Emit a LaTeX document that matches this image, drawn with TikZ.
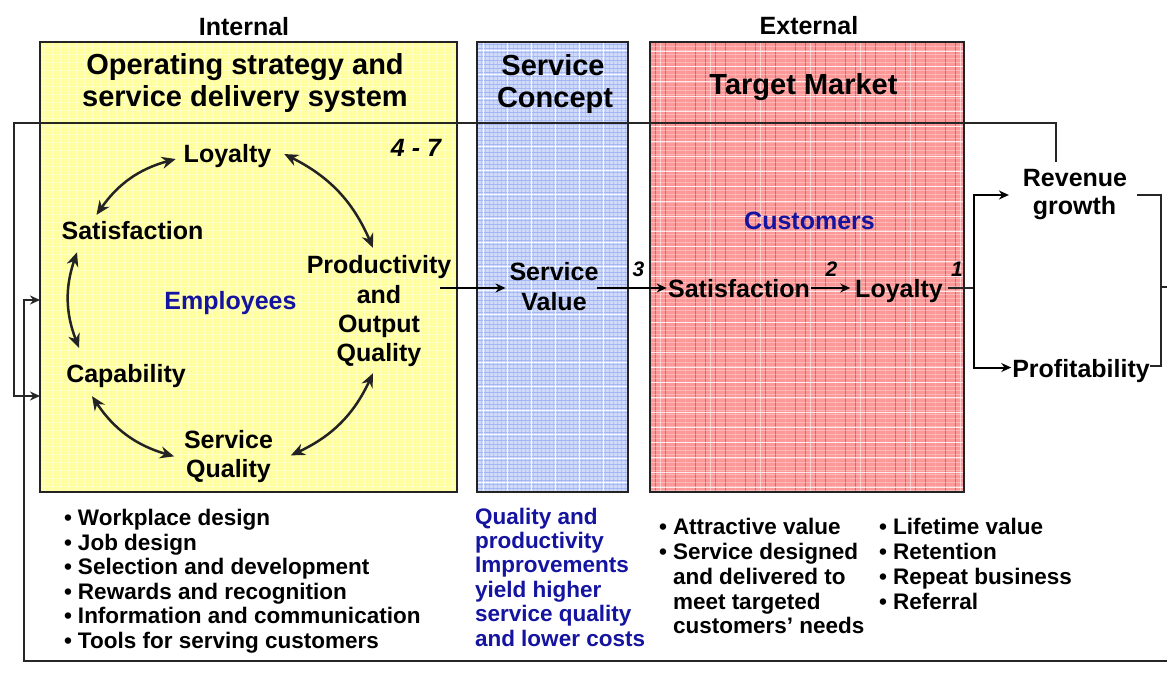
\documentclass[tikz,border=0pt]{standalone}
\usepackage{fontspec}
\setmainfont{Liberation Sans}
\usetikzlibrary{arrows.meta,calc}
\definecolor{navy}{RGB}{20,20,160}
\definecolor{yfill}{RGB}{255,255,158}
\definecolor{bfill}{RGB}{208,218,250}
\definecolor{bline}{RGB}{165,182,245}
\definecolor{rfill}{RGB}{252,152,152}
\definecolor{rline}{RGB}{250,40,40}
\definecolor{edgec}{RGB}{35,35,35}
\newcommand{\mybul}{\makebox[14pt][l]{\textbullet}}
\newcommand{\mysp}{\hspace*{14pt}}
\begin{document}
\begin{tikzpicture}[x=1pt,y=-1pt,
  lbl/.style={font=\fontsize{25}{29}\selectfont\bfseries, inner sep=0pt, outer sep=0pt, anchor=base},
  head/.style={lbl, font=\fontsize{29}{32}\selectfont\bfseries},
  num/.style={lbl, font=\fontsize{21}{24}\selectfont\bfseries\itshape},
  bl/.style={font=\fontsize{22.5}{24.5}\selectfont\bfseries, inner sep=0pt, outer sep=0pt, anchor=base west},
  boxn/.style={inner sep=0pt, outer sep=0pt},
  boxline/.style={draw=edgec, line width=1.5pt},
  cyc/.style={draw=edgec, line width=2.5pt, arrows={Stealth[length=14pt,width=12pt]-Stealth[length=14pt,width=12pt]}},
  con/.style={draw=black, line width=2pt, -{Stealth[length=10pt,width=9pt]}},
  fb/.style={draw=black!85, line width=2pt},
  fba/.style={fb, -{Stealth[length=10pt,width=9pt]}}
]
\useasboundingbox (0,0) rectangle (1167,676);
\fill[white] (0,0) rectangle (1167,676);

% column boxes
\node[boxn, fill=yfill, minimum width=417pt, minimum height=450pt] (yb) at (248.5,267) {};
\node[boxn, fill=bfill, minimum width=151pt, minimum height=450pt] (bb) at (552.5,267) {};
\node[boxn, fill=rfill, minimum width=314pt, minimum height=450pt] (rbx) at (807,267) {};

% textures
\begin{scope}
\clip (yb.north west) rectangle (yb.south east);
\foreach \x in {44,52,...,460} \draw[white, line width=0.5pt, opacity=0.4] (\x,42) -- (\x,492);
\foreach \y in {46,54,...,492} \draw[white, line width=0.5pt, opacity=0.4] (40,\y) -- (457,\y);
\end{scope}
\begin{scope}
\clip (bb.north west) rectangle (bb.south east);
\foreach \y in {44,48,...,492} \draw[bline, line width=0.4pt] (477,\y) -- (628,\y);
\foreach \x in {481,485,...,628} \draw[bline, line width=0.3pt, opacity=0.6] (\x,42) -- (\x,492);
\foreach \x in {483,507,...,628} \draw[white, line width=0.9pt, opacity=0.8] (\x,42) -- (\x,492);
\foreach \y in {50,74,...,492} \draw[white, line width=0.9pt, opacity=0.8] (477,\y) -- (628,\y);
\end{scope}
\begin{scope}
\clip (rbx.north west) rectangle (rbx.south east);
\foreach \x in {655,665,...,964} \draw[rline, line width=0.9pt, opacity=0.6] (\x,42) -- (\x,492);
\foreach \y in {46,50,...,492} \draw[white, line width=0.3pt, opacity=0.3] (650,\y) -- (964,\y);
\foreach \y in {52,67,...,492} \draw[white, line width=1pt, opacity=0.8] (650,\y) -- (964,\y);
\foreach \x in {660,685,...,964} \draw[white, line width=0.8pt, opacity=0.5] (\x,42) -- (\x,492);
\end{scope}
\draw[boxline] (yb.north west) rectangle (yb.south east);
\draw[boxline] (bb.north west) rectangle (bb.south east);
\draw[boxline] (rbx.north west) rectangle (rbx.south east);

% headings
\node[lbl] (int) at (244,36) {Internal};
\node[lbl] (ext) at (809,35) {External};
\node[head] (h1a) at (245,75) {Operating strategy and};
\node[head] (h1b) at (245,107) {service delivery system};
\node[head] (h2a) at (553,76) {Service};
\node[head] (h2b) at (555,108) {Concept};
\node[head] (h3) at (803.5,95) {Target Market};

% internal cycle
\node[lbl, font=\fontsize{25}{29}\selectfont\bfseries\itshape] (rng) at (416,157) {4 - 7};
\node[lbl] (loy) at (227.5,163) {Loyalty};
\node[lbl] (sat) at (132.5,240) {Satisfaction};
\node[lbl] (prod1) at (379,274) {Productivity};
\node[lbl] (prod2) at (379,303) {and};
\node[lbl] (prod3) at (379,332) {Output};
\node[lbl] (prod4) at (379,361) {Quality};
\node[lbl, text=navy] (emp) at (230.5,309) {Employees};
\node[lbl] (cap) at (126,382) {Capability};
\node[lbl] (sq1) at (228.5,448) {Service};
\node[lbl] (sq2) at (228.5,477) {Quality};

% service value and customers
\node[lbl] (sv1) at (554,281) {Service};
\node[lbl] (sv2) at (554,310) {Value};
\node[num] (n3) at (638.5,277) {3};
\node[lbl, text=navy] (cust) at (809.5,230) {Customers};
\node[lbl] (csat) at (739,298) {Satisfaction};
\node[num] (n2) at (831.5,277) {2};
\node[lbl] (cloy) at (899,298) {Loyalty};
\node[num] (n1) at (957,277) {1};
\node[lbl] (rev1) at (1075,187) {Revenue};
\node[lbl] (rev2) at (1074.5,215) {growth};
\node[lbl] (prof) at (1081,377) {Profitability};

% bullet lists
\foreach \t [count=\i from 0] in {Workplace design, Job design, Selection and development, Rewards and recognition, Information and communication, Tools for serving customers}
  \node[bl] (lb\i) at (64,{525.5+24.5*\i}) {\mybul\t};
\foreach \t [count=\i from 0] in {Quality and, productivity, Improvements, yield higher, service quality, and lower costs}
  \node[bl, text=navy] (bt\i) at (475,{524+24.4*\i}) {\t};
\node[bl] (ra0) at (659,534) {\mybul Attractive value};
\node[bl] (ra1) at (659,559) {\mybul Service designed};
\node[bl] (ra2) at (659,584) {\mysp and delivered to};
\node[bl] (ra3) at (659,609) {\mysp meet targeted};
\node[bl] (ra4) at (659,633) {\mysp customers’ needs};
\node[bl] (rb0) at (879,534) {\mybul Lifetime value};
\node[bl] (rb1) at (879,559) {\mybul Retention};
\node[bl] (rb2) at (879,584) {\mybul Repeat business};
\node[bl] (rb3) at (879,609) {\mybul Referral};

% cycle arrows
\draw[cyc] ([shift={(-8,2.5)}]loy.west) to[bend right=20] ([shift={(-36,-7)}]sat.north);
\draw[cyc] ([shift={(13,-2.5)}]loy.east) to[bend left=20] ([shift={(-6,-8)}]prod1.north);
\draw[cyc] ([shift={(-55.5,12)}]sat.south) to[bend right=20] ([shift={(-47,-16)}]cap.north);
\draw[cyc] ([shift={(-34,9)}]cap.south) to[bend right=20] ([shift={(-12,-2.5)}]sq2.north west);
\draw[cyc] ([shift={(20,-3.5)}]sq2.north east) to[bend right=20] ([shift={(-6,7)}]prod4.south);

% main chain
\coordinate (pout) at (440,288);
\coordinate (svout) at (597,288);
\coordinate (brn) at (974,288);
\draw[con] (pout) -- ($(sv1.west |- pout)+(-4,0)$);
\draw[con] (svout) -- ($(csat.west |- svout)+(-1.5,0)$);
\draw[con] ($(csat.east |- svout)+(1.5,0)$) -- ($(cloy.west |- svout)+(-5,0)$);
\draw[fb] ($(cloy.east |- brn)+(5,0)$) -- (brn);
\draw[con] (brn) |- ($(rev1.base west)+(-14,8)$);
\draw[con] (brn) |- ($(prof.west)+(-1,-3)$);

% right bracket
\coordinate (brk) at (1161,287);
\coordinate (redge) at (1167,287);
\draw[fb] ($(rev1.base east)+(10,8)$) -| (brk) |- ($(prof.east)+(0,-5)$);
\draw[fb] (brk) -- (redge);

% feedback loops
\coordinate (rtop) at ($(rev1.north)+(-19,-8)$);
\coordinate (tl) at (14,123);
\coordinate (yin1) at (40,396);
\draw[fba] (rtop) |- (tl) |- (yb.west |- yin1);
\coordinate (bedge) at (1167,661);
\coordinate (bl) at (24,300);
\draw[fba] (bedge) -| (bl) -- (yb.west |- bl);
\end{tikzpicture}
\end{document}
